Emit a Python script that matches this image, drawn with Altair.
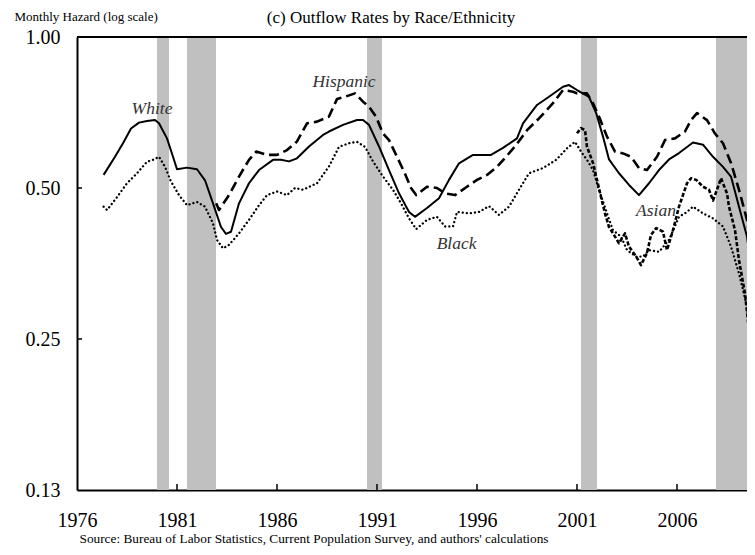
import altair as alt
import pandas as pd

SERIF = "Liberation Serif"

# ---- data ----
white_years = [1977.33, 1977.9, 1978.3, 1978.7, 1979.1, 1979.5, 1979.9, 1980.1, 1980.5, 1980.8,
               1981.0, 1981.5, 1982.0, 1982.4, 1982.8, 1983.2, 1983.45, 1983.7, 1984.1, 1984.6,
               1985.1, 1985.8, 1986.2, 1986.6, 1987.0, 1987.6, 1988.3, 1988.6, 1989.3, 1990.0,
               1990.3, 1990.6, 1991.1, 1991.6, 1992.1, 1992.6, 1992.9, 1993.5, 1994.1, 1994.6,
               1995.1, 1995.8, 1996.7, 1997.3, 1998.0, 1998.3, 1999.0, 1999.6, 2000.3, 2000.6,
               2001.0, 2001.6, 2001.96, 2002.3, 2002.6, 2003.1, 2003.6, 2004.1, 2004.6, 2005.1,
               2005.6, 2006.1, 2006.8, 2007.3, 2007.8, 2008.3, 2008.7, 2009.1, 2009.5, 2009.9]
white_vals = [0.531, 0.577, 0.614, 0.657, 0.675, 0.680, 0.683, 0.673, 0.628, 0.577,
              0.545, 0.549, 0.545, 0.518, 0.466, 0.418, 0.405, 0.409, 0.466, 0.511,
              0.543, 0.569, 0.569, 0.565, 0.573, 0.605, 0.638, 0.648, 0.668, 0.683,
              0.683, 0.668, 0.605, 0.543, 0.488, 0.448, 0.438, 0.456, 0.477, 0.519,
              0.560, 0.582, 0.582, 0.601, 0.628, 0.673, 0.732, 0.760, 0.796, 0.802,
              0.784, 0.760, 0.705, 0.633, 0.570, 0.535, 0.507, 0.484, 0.511, 0.543,
              0.570, 0.587, 0.616, 0.610, 0.577, 0.551, 0.527, 0.459, 0.400, 0.303]

hisp_years = [1982.96, 1983.1, 1983.6, 1984.1, 1984.6, 1984.96, 1985.5, 1986.0, 1986.5, 1987.0,
              1987.5, 1988.0, 1988.6, 1989.0, 1989.4, 1989.9, 1990.3, 1990.6, 1990.95, 1991.3,
              1991.6, 1992.0, 1992.4, 1992.7, 1992.96, 1993.5, 1994.0, 1994.4, 1994.9, 1995.5,
              1996.0, 1996.5, 1997.0, 1997.4, 1997.9, 1998.5, 1999.1, 1999.8, 2000.3, 2000.8,
              2001.0, 2001.5, 2001.8, 2002.1, 2002.5, 2002.9, 2003.3, 2003.7, 2004.1, 2004.5,
              2005.0, 2005.4, 2005.9, 2006.4, 2006.7, 2007.0, 2007.5, 2007.9, 2008.3, 2008.7,
              2009.1, 2009.5, 2009.8]
hisp_vals = [0.466, 0.452, 0.484, 0.527, 0.569, 0.591, 0.582, 0.582, 0.595, 0.619,
             0.673, 0.678, 0.694, 0.752, 0.760, 0.772, 0.743, 0.726, 0.694, 0.642,
             0.623, 0.577, 0.534, 0.500, 0.484, 0.503, 0.500, 0.488, 0.484, 0.503,
             0.519, 0.531, 0.551, 0.574, 0.605, 0.652, 0.688, 0.738, 0.784, 0.778,
             0.772, 0.772, 0.738, 0.694, 0.633, 0.591, 0.586, 0.577, 0.548, 0.543,
             0.577, 0.623, 0.628, 0.648, 0.683, 0.705, 0.683, 0.642, 0.614, 0.561,
             0.496, 0.432, 0.359]

black_years = [1977.33, 1977.5, 1977.96, 1978.5, 1979.0, 1979.5, 1979.8, 1980.1, 1980.4, 1980.7,
               1981.1, 1981.5, 1982.0, 1982.4, 1982.8, 1983.0, 1983.3, 1983.6, 1984.1, 1984.6,
               1985.1, 1985.5, 1986.0, 1986.5, 1986.9, 1987.3, 1988.0, 1988.6, 1989.1, 1989.6,
               1990.0, 1990.4, 1990.8, 1991.3, 1991.8, 1992.2, 1992.6, 1992.96, 1993.5, 1994.0,
               1994.4, 1994.8, 1995.0, 1995.6, 1996.1, 1996.6, 1997.1, 1997.6, 1998.1, 1998.6,
               1999.3, 1999.96, 2000.5, 2000.9, 2001.2, 2001.5, 2001.8, 2002.1, 2002.5, 2002.8,
               2003.2, 2003.5, 2003.96, 2004.3, 2004.6, 2005.1, 2005.6, 2006.1, 2006.5, 2006.8,
               2007.3, 2007.8, 2008.3, 2008.7, 2009.1, 2009.5, 2009.8]
black_vals = [0.459, 0.452, 0.477, 0.511, 0.535, 0.564, 0.569, 0.577, 0.551, 0.515,
              0.484, 0.462, 0.469, 0.459, 0.425, 0.394, 0.379, 0.385, 0.406, 0.432,
              0.462, 0.484, 0.492, 0.484, 0.500, 0.496, 0.511, 0.552, 0.604, 0.614,
              0.618, 0.604, 0.565, 0.527, 0.496, 0.466, 0.435, 0.414, 0.432, 0.438,
              0.419, 0.419, 0.448, 0.445, 0.448, 0.460, 0.442, 0.459, 0.496, 0.535,
              0.548, 0.569, 0.600, 0.618, 0.591, 0.569, 0.543, 0.496, 0.445, 0.412,
              0.400, 0.376, 0.365, 0.365, 0.376, 0.373, 0.394, 0.438, 0.448, 0.459,
              0.445, 0.435, 0.419, 0.382, 0.338, 0.290, 0.213]

asian_years = [2001.0, 2001.2, 2001.4, 2001.5, 2001.8, 2002.0, 2002.2, 2002.4, 2002.6, 2002.9,
               2003.1, 2003.4, 2003.6, 2003.96, 2004.2, 2004.5, 2004.7, 2004.96, 2005.3, 2005.5,
               2005.8, 2006.1, 2006.5, 2006.7, 2006.96, 2007.3, 2007.6, 2007.8, 2008.0, 2008.2,
               2008.5, 2008.6, 2008.9, 2009.1, 2009.4, 2009.6, 2009.8]
asian_vals = [0.643, 0.658, 0.652, 0.604, 0.561, 0.519, 0.480, 0.445, 0.418, 0.400,
              0.388, 0.406, 0.382, 0.365, 0.351, 0.371, 0.403, 0.416, 0.409, 0.376,
              0.412, 0.459, 0.511, 0.523, 0.519, 0.503, 0.496, 0.472, 0.496, 0.523,
              0.488, 0.459, 0.412, 0.359, 0.308, 0.260, 0.234]

recession_start = [1980.0, 1981.5, 1990.5, 2001.2, 2007.95]
recession_end = [1980.6, 1982.95, 1991.25, 2002.0, 2009.55]

label_names = ["White", "Hispanic", "Black", "Asian"]
label_years = [1979.75, 1989.35, 1994.98, 2004.95]
label_vals = [0.702, 0.796, 0.378, 0.440]

x_tick_years = [1976, 1981, 1986, 1991, 1996, 2001, 2006]
y_tick_vals = [0.125, 0.25, 0.5, 1.0]
x_domain = [1976, 2009.5]
y_domain = [0.125, 1.0]

title_text = "(c) Outflow Rates by Race/Ethnicity"
y_title = "Monthly Hazard (log scale)"
source_text = "Source: Bureau of Labor Statistics, Current Population Survey, and authors' calculations"

W, H = 670, 453

# ---- frames ----
def series(years, vals):
    assert len(years) == len(vals)
    return pd.DataFrame({"t": years, "v": vals})

white_df = series(white_years, white_vals)
hisp_df = series(hisp_years, hisp_vals)
black_df = series(black_years, black_vals)
asian_df = series(asian_years, asian_vals)
rec_df = pd.DataFrame({"t": recession_start, "t2": recession_end})
lab_df = pd.DataFrame({"name": label_names, "t": label_years, "v": label_vals})
xt_df = pd.DataFrame({"t": x_tick_years[1:]})
yt_df = pd.DataFrame({"v": y_tick_vals[1:-1]})

xs = alt.Scale(domain=x_domain, nice=False, zero=False)
ys = alt.Scale(type="log", base=2, domain=y_domain, nice=False)

xa = alt.Axis(values=x_tick_years, format="d", labelFont=SERIF, labelFontSize=20,
              labelColor="black", labelPadding=20, labelFlush=False, labelOverlap=False,
              ticks=False, grid=False, domainColor="black", domainWidth=2,
              title=source_text, titleFont=SERIF, titleFontSize=13.3, titleFontWeight="normal",
              titleColor="black", titleX=2, titleY=52, titleAlign="left", titleAnchor="start",
              titleBaseline="alphabetic")
ya = alt.Axis(values=y_tick_vals, format=".2f", labelFont=SERIF, labelFontSize=20,
              labelColor="black", labelPadding=17, labelFlush=False, labelOverlap=False,
              ticks=False, grid=False, domainColor="black", domainWidth=2,
              title=y_title, titleFont=SERIF, titleFontSize=13, titleFontWeight="normal",
              titleColor="black", titleAngle=0, titleX=-63, titleY=-16.5, titleAlign="left",
              titleBaseline="alphabetic")

X = alt.X("t:Q", scale=xs, axis=xa)
Y = alt.Y("v:Q", scale=ys, axis=ya)

rects = alt.Chart(rec_df).mark_rect(color="#C0C0C0", clip=True).encode(x=X, x2="t2:Q")

def line(df, dash, width):
    kw = dict(color="black", strokeWidth=width, clip=True, strokeJoin="round")
    if dash:
        kw["strokeDash"] = dash
    return alt.Chart(df).mark_line(**kw).encode(x=X, y=Y)

white = line(white_df, None, 2)
hisp = line(hisp_df, [10, 5], 2.6)
black = alt.Chart(black_df).mark_line(color="black", strokeWidth=2.3, strokeDash=[0.1, 4],
                                      strokeCap="round", clip=True).encode(x=X, y=Y)
asian = line(asian_df, [4, 2], 2.6)

top = alt.Chart(pd.DataFrame({"v": [y_domain[1]]})).mark_rule(color="black", strokeWidth=2).encode(
    y=Y, x=alt.value(0), x2=alt.value(W))
xticks = alt.Chart(xt_df).mark_rule(color="black", strokeWidth=1.5).encode(
    x=X, y=alt.value(H - 6), y2=alt.value(H))
yticks = alt.Chart(yt_df).mark_rule(color="black", strokeWidth=1.5).encode(
    y=Y, x=alt.value(0), x2=alt.value(5))

labels = alt.Chart(lab_df).mark_text(font=SERIF, fontStyle="italic", fontSize=17.5, color="#333333",
                                     baseline="alphabetic", align="center").encode(
    x=X, y=Y, text="name:N")

title = alt.Chart(pd.DataFrame({"txt": [title_text]})).mark_text(
    font=SERIF, fontSize=17, color="black", baseline="alphabetic", align="center").encode(
    x=alt.value(314), y=alt.value(-13.8), text="txt:N")

chart = alt.layer(rects, white, hisp, black, asian, top, xticks, yticks, labels, title).properties(
    width=W, height=H,
    padding={"left": 69, "top": 29, "right": 0, "bottom": 57},
    autosize=alt.AutoSizeParams(type="none"),
).configure_view(stroke=None).configure(background="white")

chart.save("out.html", embed_options={"renderer": "svg", "actions": False})
